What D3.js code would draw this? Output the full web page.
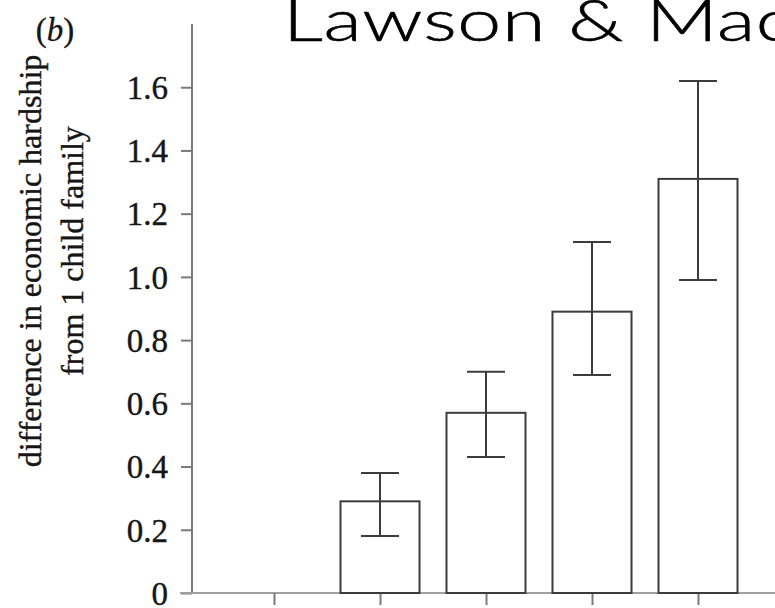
<!DOCTYPE html>
<html>
<head>
<meta charset="utf-8">
<script src="https://cdn.jsdelivr.net/npm/d3@7"></script>
<style>
  html, body { margin: 0; padding: 0; background: #fff; overflow: hidden; }
  svg { display: block; }
</style>
</head>
<body>
<script>
// ---- data ----
const categories = ["1", "2", "3", "4", "5"];           // number of children
const values     = [null, 0.29, 0.57, 0.89, 1.31];       // difference from 1 child family
const lower      = [null, 0.18, 0.43, 0.69, 0.99];       // error bar lower bound
const upper      = [null, 0.38, 0.70, 1.11, 1.62];       // error bar upper bound
const yTicks     = [0, 0.2, 0.4, 0.6, 0.8, 1.0, 1.2, 1.4, 1.6];
const yLabelLines = ["difference in economic hardship", "from 1 child family"];
const titleText  = "Lawson & Mace";

const W = 775, H = 608;
const svg = d3.select("body").append("svg").attr("width", W).attr("height", H);

const y = d3.scaleLinear().domain([0, 1.8]).range([593, 24]);
const x = d3.scalePoint().domain(categories).range([274, 698]);
const barW = 79;
const capW = 38;
const axisColor = "#7a7a7a";
const barColor = "#3c3c3c";
const serif = "'Liberation Serif', 'Times New Roman', serif";
const textColor = "#161616";

// title (clipped at the right edge as in the reference)
svg.append("text")
  .attr("transform", "translate(283,41) scale(1.36,1)")
  .attr("font-family", "Lato, 'Open Sans', sans-serif")
  .attr("font-size", 58)
  .attr("font-weight", 300)
  .attr("letter-spacing", 0.5)
  .attr("fill", "#000")
  .attr("stroke", "#000").attr("stroke-width", 0.6)
  .text(titleText);

// y axis
const yAxis = d3.axisLeft(y).tickValues(yTicks).tickSize(11).tickPadding(13)
  .tickFormat(d => d === 0 ? "0" : d3.format(".1f")(d));
const gy = svg.append("g").attr("transform", "translate(192,0)").call(yAxis);
gy.select(".domain").attr("stroke", axisColor).attr("stroke-width", 2)
  .attr("d", `M0,${y(0)}V${y(1.8)}`);
gy.selectAll(".tick line").attr("stroke", axisColor).attr("stroke-width", 2);
gy.selectAll(".tick text")
  .attr("font-family", serif)
  .attr("font-size", 33).attr("fill", textColor)
  .attr("stroke", textColor).attr("stroke-width", 0.4)
  .attr("dy", "0.34em");

// x axis
const xAxis = d3.axisBottom(x).tickSize(12).tickFormat("");
const gx = svg.append("g").attr("transform", `translate(0,${y(0)})`).call(xAxis);
gx.select(".domain").attr("stroke", "#a0a0a0").attr("stroke-width", 2)
  .attr("d", `M180,0H${W}`);
gx.selectAll(".tick line").attr("stroke", axisColor).attr("stroke-width", 2);

// bars
const data = categories.map((c, i) => ({ c, v: values[i], lo: lower[i], hi: upper[i] }))
  .filter(d => d.v !== null);

svg.append("g").selectAll("rect").data(data).join("rect")
  .attr("x", d => x(d.c) - barW / 2)
  .attr("y", d => y(d.v))
  .attr("width", barW)
  .attr("height", d => y(0) - y(d.v))
  .attr("fill", "#fff")
  .attr("stroke", barColor).attr("stroke-width", 2);

// error bars
const eg = svg.append("g").attr("stroke", barColor).attr("stroke-width", 2);
eg.selectAll("line.v").data(data).join("line").attr("class", "v")
  .attr("x1", d => x(d.c)).attr("x2", d => x(d.c))
  .attr("y1", d => y(d.lo)).attr("y2", d => y(d.hi));
eg.selectAll("line.t").data(data).join("line").attr("class", "t")
  .attr("x1", d => x(d.c) - capW / 2).attr("x2", d => x(d.c) + capW / 2)
  .attr("y1", d => y(d.hi)).attr("y2", d => y(d.hi));
eg.selectAll("line.b").data(data).join("line").attr("class", "b")
  .attr("x1", d => x(d.c) - capW / 2).attr("x2", d => x(d.c) + capW / 2)
  .attr("y1", d => y(d.lo)).attr("y2", d => y(d.lo));

// y label
const yl = svg.append("g");
yl.append("text")
  .attr("transform", "translate(41,261) rotate(-90)")
  .attr("text-anchor", "middle").attr("font-family", serif)
  .attr("font-size", 32).attr("fill", textColor)
  .attr("stroke", textColor).attr("stroke-width", 0.4)
  .text(yLabelLines[0]);
yl.append("text")
  .attr("transform", "translate(83,251) rotate(-90)")
  .attr("text-anchor", "middle").attr("font-family", serif)
  .attr("font-size", 32).attr("fill", textColor)
  .attr("stroke", textColor).attr("stroke-width", 0.4)
  .text(yLabelLines[1]);

// panel label
svg.append("text")
  .attr("x", 55).attr("y", 41).attr("text-anchor", "middle")
  .attr("font-family", serif).attr("font-size", 33).attr("fill", textColor)
  .attr("stroke", textColor).attr("stroke-width", 0.3)
  .html('(<tspan font-style="italic">b</tspan>)');
</script>
</body>
</html>
